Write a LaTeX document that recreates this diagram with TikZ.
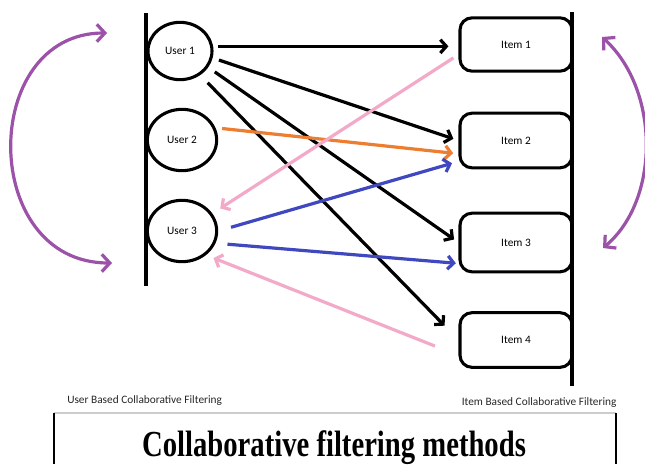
\documentclass[tikz,border=0pt]{standalone}
\usepackage{fontspec}
\setmainfont{Carlito}
\newfontfamily\captionfont{Liberation Serif}
\usetikzlibrary{arrows.meta, shapes.geometric}
\definecolor{cfpurple}{RGB}{155,82,168}
\definecolor{cforange}{RGB}{237,125,49}
\definecolor{cfblue}{RGB}{63,72,190}
\definecolor{cfpink}{RGB}{242,170,200}
\newcommand\smallfont{\fontsize{8.5}{10}\selectfont}

\begin{document}
\begin{tikzpicture}[x=0.75pt, y=-0.75pt,
    usernode/.style={draw, ellipse, line width=2.3pt, minimum width=52pt, minimum height=46pt, inner sep=0pt, font=\smallfont},
    itemnode/.style={draw, rectangle, rounded corners=9pt, line width=2.3pt, minimum width=84pt, minimum height=41pt, inner sep=0pt, font=\smallfont},
    caption/.style={inner sep=0pt, font=\smallfont, color=black!85},
    arrow/.style={-{Straight Barb[length=4.5pt, width=10pt]}, line width=2.4pt},
    simarrow/.style={{Straight Barb[length=6pt, width=13pt]}-{Straight Barb[length=6pt, width=13pt]}, line width=2.4pt, cfpurple},
    bar/.style={line width=2.4pt},
]
\useasboundingbox (0,0) rectangle (645,464);

% users and items
\node[usernode, minimum width=48pt, minimum height=43pt] (u1) at (180,51) {User 1};
\node[usernode] (u2) at (182,140) {User 2};
\node[usernode] (u3) at (182,231) {User 3};
\node[itemnode, minimum height=40pt] (i1) at (516,44.5) {Item 1};
\node[itemnode] (i2) at (516,140.5) {Item 2};
\node[itemnode, minimum height=44pt] (i3) at (516,242.5) {Item 3};
\node[itemnode] (i4) at (516,340) {Item 4};

\draw[bar] (146,13) -- (146,286);
\draw[bar] (572,12) -- (572,386);

% ratings of user 1
\draw[arrow, shorten <=4pt, shorten >=7.5pt] (u1.8) -- (u1.8 -| i1.west);
\draw[arrow, shorten <=5pt, shorten >=4pt] (u1.-12) -- (i2.west);
\draw[arrow, shorten <=6pt, shorten >=4pt] (u1.-30) -- (i3.west);
\draw[arrow, shorten <=8pt, shorten >=15pt] (u1.-50) -- (i4.west);

\draw[arrow, cforange, shorten <=5pt, shorten >=4pt] (u2.20) -- (i2.193);
\draw[arrow, cfblue, shorten <=10pt, shorten >=5pt] (u3.east) -- (i2.200);
\draw[arrow, cfblue, shorten <=9pt, shorten >=2pt] (u3.-20) -- (i3.200);

% recommendations to user 3
\draw[arrow, cfpink, shorten <=4.5pt, shorten >=7pt] (i1.190) -- (u3.30);
\draw[arrow, cfpink, shorten <=19pt, shorten >=6pt] (i4.195) -- (u3.-45);

% similarity
\coordinate (userbot) at (112,263);
\coordinate (usertop) at (107,33);
\coordinate (itemtop) at (602,37);
\coordinate (itembot) at (603,248);
\draw[simarrow] (userbot) .. controls +(-133,0) and +(-128,0) .. (usertop);
\draw[simarrow] (itemtop) .. controls +(58,53) and +(57,-48) .. (itembot);

\node[caption, anchor=base west] (userlabel) at (67,403) {User Based Collaborative Filtering};
\node[caption, anchor=base west] (itemlabel) at (461.5,405) {Item Based Collaborative Filtering};

% caption box
\node[anchor=base, inner sep=0pt, font=\captionfont\bfseries\fontsize{21.5}{24}\selectfont] (title) at (334,456.7) {\scalebox{1}[1.28]{Collaborative filtering methods}};
\draw[black!20, line width=0.8pt] (54,413) -- (616,413);
\draw[line width=1.3pt] (54,413) -- (54,464);
\draw[line width=1.3pt] (616,413) -- (616,464);
\end{tikzpicture}
\end{document}
